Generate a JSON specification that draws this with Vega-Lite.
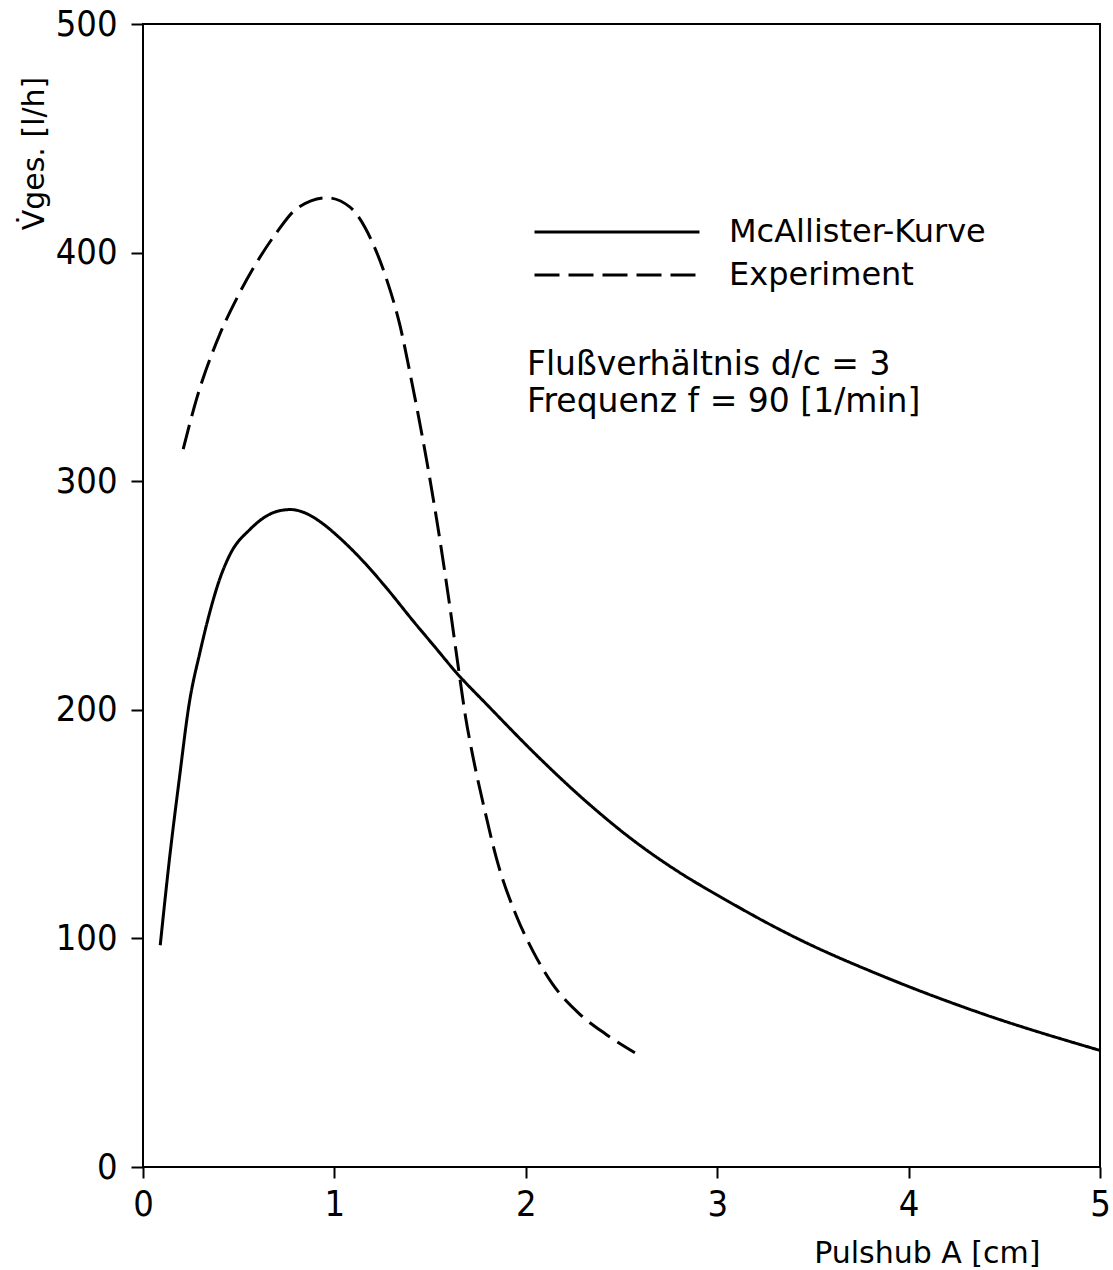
{
  "$schema": "https://vega.github.io/schema/vega-lite/v6.json",
  "autosize": {"type": "none"},
  "padding": {"left": 143, "top": 24, "right": 13, "bottom": 103},
  "width": 957,
  "height": 1143,
  "background": "white",
  "config": {
    "view": {"stroke": "black", "strokeWidth": 2},
    "axis": {"grid": false, "domain": false, "tickColor": "black", "tickWidth": 2, "labelColor": "black", "titleColor": "black", "titleFontWeight": "normal"}
  },
  "datasets": {
    "curves": [
      {"series": "McAllister-Kurve", "A": 0.09, "V": 97},
      {"series": "McAllister-Kurve", "A": 0.14, "V": 136},
      {"series": "McAllister-Kurve", "A": 0.19, "V": 170},
      {"series": "McAllister-Kurve", "A": 0.24, "V": 202},
      {"series": "McAllister-Kurve", "A": 0.30, "V": 226},
      {"series": "McAllister-Kurve", "A": 0.35, "V": 243},
      {"series": "McAllister-Kurve", "A": 0.40, "V": 257},
      {"series": "McAllister-Kurve", "A": 0.455, "V": 268},
      {"series": "McAllister-Kurve", "A": 0.56, "V": 279},
      {"series": "McAllister-Kurve", "A": 0.64, "V": 284.5},
      {"series": "McAllister-Kurve", "A": 0.70, "V": 286.8},
      {"series": "McAllister-Kurve", "A": 0.77, "V": 287.6},
      {"series": "McAllister-Kurve", "A": 0.85, "V": 286},
      {"series": "McAllister-Kurve", "A": 0.93, "V": 282},
      {"series": "McAllister-Kurve", "A": 1.03, "V": 275},
      {"series": "McAllister-Kurve", "A": 1.15, "V": 265},
      {"series": "McAllister-Kurve", "A": 1.275, "V": 253},
      {"series": "McAllister-Kurve", "A": 1.41, "V": 239},
      {"series": "McAllister-Kurve", "A": 1.52, "V": 228},
      {"series": "McAllister-Kurve", "A": 1.64, "V": 216},
      {"series": "McAllister-Kurve", "A": 1.80, "V": 202},
      {"series": "McAllister-Kurve", "A": 2.07, "V": 179},
      {"series": "McAllister-Kurve", "A": 2.30, "V": 161},
      {"series": "McAllister-Kurve", "A": 2.56, "V": 143},
      {"series": "McAllister-Kurve", "A": 2.80, "V": 129},
      {"series": "McAllister-Kurve", "A": 3.01, "V": 118.5},
      {"series": "McAllister-Kurve", "A": 3.43, "V": 99.5},
      {"series": "McAllister-Kurve", "A": 3.85, "V": 84},
      {"series": "McAllister-Kurve", "A": 4.37, "V": 67.5},
      {"series": "McAllister-Kurve", "A": 5.0, "V": 51},
      {"series": "Experiment", "A": 0.21, "V": 314},
      {"series": "Experiment", "A": 0.28, "V": 336},
      {"series": "Experiment", "A": 0.40, "V": 364},
      {"series": "Experiment", "A": 0.49, "V": 380},
      {"series": "Experiment", "A": 0.575, "V": 393},
      {"series": "Experiment", "A": 0.70, "V": 409},
      {"series": "Experiment", "A": 0.80, "V": 419},
      {"series": "Experiment", "A": 0.96, "V": 424},
      {"series": "Experiment", "A": 1.08, "V": 420},
      {"series": "Experiment", "A": 1.19, "V": 406},
      {"series": "Experiment", "A": 1.27, "V": 389},
      {"series": "Experiment", "A": 1.34, "V": 369},
      {"series": "Experiment", "A": 1.41, "V": 341},
      {"series": "Experiment", "A": 1.48, "V": 310},
      {"series": "Experiment", "A": 1.55, "V": 275},
      {"series": "Experiment", "A": 1.60, "V": 247},
      {"series": "Experiment", "A": 1.645, "V": 220},
      {"series": "Experiment", "A": 1.685, "V": 197},
      {"series": "Experiment", "A": 1.725, "V": 179},
      {"series": "Experiment", "A": 1.78, "V": 158},
      {"series": "Experiment", "A": 1.85, "V": 134},
      {"series": "Experiment", "A": 1.95, "V": 110},
      {"series": "Experiment", "A": 2.04, "V": 94},
      {"series": "Experiment", "A": 2.14, "V": 80},
      {"series": "Experiment", "A": 2.28, "V": 67},
      {"series": "Experiment", "A": 2.42, "V": 58},
      {"series": "Experiment", "A": 2.57, "V": 50}
    ],
    "note": [
      {"text": "Flußverhältnis d/c = 3\nFrequenz f = 90 [1/min]"}
    ]
  },
  "layer": [
    {
      "data": {"name": "curves"},
      "mark": {"type": "line", "color": "black", "strokeWidth": 3, "interpolate": "monotone"},
      "encoding": {
        "x": {
          "field": "A", "type": "quantitative",
          "scale": {"domain": [0, 5], "nice": false, "zero": false},
          "axis": {
            "values": [0, 1, 2, 3, 4, 5], "format": "d", "tickSize": 11, "labelPadding": 9,
            "labelFont": "DejaVu Sans Condensed", "labelFontSize": 36, "labelFlush": false,
            "title": "Pulshub A [cm]", "titleFont": "DejaVu Sans", "titleFontSize": 30,
            "titleAnchor": null, "titleAlign": "right", "titleBaseline": "alphabetic",
            "titleX": 897, "titleY": 95
          }
        },
        "y": {
          "field": "V", "type": "quantitative",
          "scale": {"domain": [0, 500], "nice": false},
          "axis": {
            "values": [0, 100, 200, 300, 400, 500], "format": "d", "tickSize": 12, "labelPadding": 14,
            "labelFont": "DejaVu Sans Condensed", "labelFontSize": 36, "labelFlush": false,
            "title": "V̇ges. [l/h]", "titleFont": "DejaVu Sans", "titleFontSize": 30,
            "titleAngle": 270, "titleAnchor": null, "titleAlign": "center", "titleBaseline": "alphabetic",
            "titleX": -100, "titleY": 129
          }
        },
        "strokeDash": {
          "field": "series", "type": "nominal",
          "scale": {"domain": ["McAllister-Kurve", "Experiment"], "range": [[1, 0], [25, 9]]},
          "legend": {
            "orient": "none", "legendX": 380, "legendY": 192, "title": null, "padding": 0,
            "symbolType": "M-16.5,0H16.5", "symbolSize": 100, "symbolStrokeWidth": 3,
            "symbolStrokeColor": "black", "symbolFillColor": "transparent",
            "symbolOffset": 78, "labelOffset": 96,
            "labelFont": "DejaVu Sans", "labelFontSize": 32, "labelColor": "black", "labelLimit": 0,
            "rowPadding": 11
          }
        }
      }
    },
    {
      "data": {"name": "note"},
      "mark": {"type": "text", "align": "left", "baseline": "alphabetic", "font": "DejaVu Sans", "fontSize": 33, "lineBreak": "\n", "lineHeight": 37, "color": "black"},
      "encoding": {
        "x": {"datum": 2.006, "type": "quantitative"},
        "y": {"datum": 346.5, "type": "quantitative"},
        "text": {"field": "text"}
      }
    }
  ]
}
